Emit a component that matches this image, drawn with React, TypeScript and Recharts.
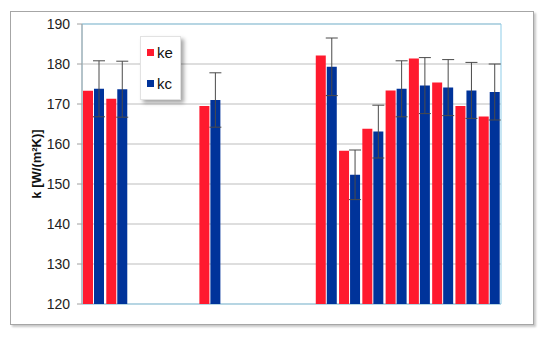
import React from 'react'
import {
  BarChart,
  Bar,
  XAxis,
  YAxis,
  CartesianGrid,
  ErrorBar,
  ReferenceArea,
} from 'recharts'

const categories = ['1', '2', '3', '4', '5', '6', '7', '8', '9', '10', '11', '12', '13', '14', '15', '16', '17', '18']
const keValues = [173.3, 171.3, null, null, null, 169.5, null, null, null, null, 182.1, 158.3, 163.8, 173.4, 181.4, 175.4, 169.5, 166.9]
const kcValues = [173.8, 173.7, null, null, null, 171.0, null, null, null, null, 179.3, 152.3, 163.1, 173.8, 174.6, 174.1, 173.4, 173.0]
const kcErrors = [7.0, 7.0, null, null, null, 6.8, null, null, null, null, 7.2, 6.2, 6.6, 7.0, 7.0, 7.0, 7.0, 7.0]
const yTicks = [120, 130, 140, 150, 160, 170, 180, 190]

const data = categories.map((name, i) => ({
  name,
  ke: keValues[i],
  kc: kcValues[i],
  kcErr: kcErrors[i],
}))

const RED = '#ff1a2e'
const BLUE = '#00339a'
const FONT = '"Liberation Sans", Arial, sans-serif'

// legend box sits inside the plot area, drawn as plain html over the chart
const LegendBox = () => (
  <div
    style={{
      position: 'absolute',
      left: 140,
      top: 36,
      width: 41,
      height: 64,
      background: '#fff',
      border: '1px solid #e2e2e2',
      boxShadow: '3px 3px 4px rgba(0,0,0,0.35)',
      fontFamily: FONT,
      fontSize: 15,
      color: '#111',
      boxSizing: 'border-box',
    }}
  >
    {[
      { label: 'ke', color: RED, top: 8 },
      { label: 'kc', color: BLUE, top: 39 },
    ].map((it) => (
      <div key={it.label} style={{ position: 'absolute', left: 6, top: it.top, display: 'flex', alignItems: 'center' }}>
        <span style={{ width: 7, height: 7, background: it.color, display: 'inline-block', marginRight: 3 }} />
        <span style={{ lineHeight: '15px' }}>{it.label}</span>
      </div>
    ))}
  </div>
)

const App = () => {
  return (
    <div style={{ position: 'absolute', left: 0, top: 0, width: 550, height: 338, background: '#fff' }}>
      <div
        style={{
          position: 'absolute',
          left: 10,
          top: 11,
          width: 522,
          height: 312,
          border: '1px solid #a6a6a6',
          boxShadow: '2px 2px 2px #c8c8c8',
          background: '#fff',
        }}
      />
      <div style={{ position: 'absolute', left: 0, top: 0 }}>
        <BarChart
          width={550}
          height={338}
          data={data}
          margin={{ top: 24, right: 49, left: 32, bottom: 34 }}
          barGap={1}
        >
          <CartesianGrid vertical={false} stroke="#bdbdbd" />
          <ReferenceArea y1={120} y2={190} fill="none" stroke="#8fcde8" strokeWidth={1} />
          <XAxis dataKey="name" hide />
          <YAxis
            domain={[120, 190]}
            ticks={yTicks}
            width={50}
            tickSize={5}
            tickMargin={7}
            axisLine={{ stroke: '#a0a0a0' }}
            tickLine={{ stroke: '#a0a0a0' }}
            tick={{ fill: '#222', fontSize: 14, fontFamily: FONT }}
            label={{
              value: 'k [W/(m²K)]',
              angle: -90,
              position: 'left',
              offset: -4,
              style: { fontFamily: FONT, fontSize: 13, fontWeight: 'bold', fill: '#111', textAnchor: 'middle' },
            }}
          />
          <Bar dataKey="ke" fill={RED} barSize={10} isAnimationActive={false} />
          <Bar dataKey="kc" fill={BLUE} barSize={10} isAnimationActive={false}>
            <ErrorBar dataKey="kcErr" width={6} stroke="#4a4a4a" strokeWidth={1} direction="y" />
          </Bar>
        </BarChart>
      </div>
      <LegendBox />
    </div>
  )
}

export default App
